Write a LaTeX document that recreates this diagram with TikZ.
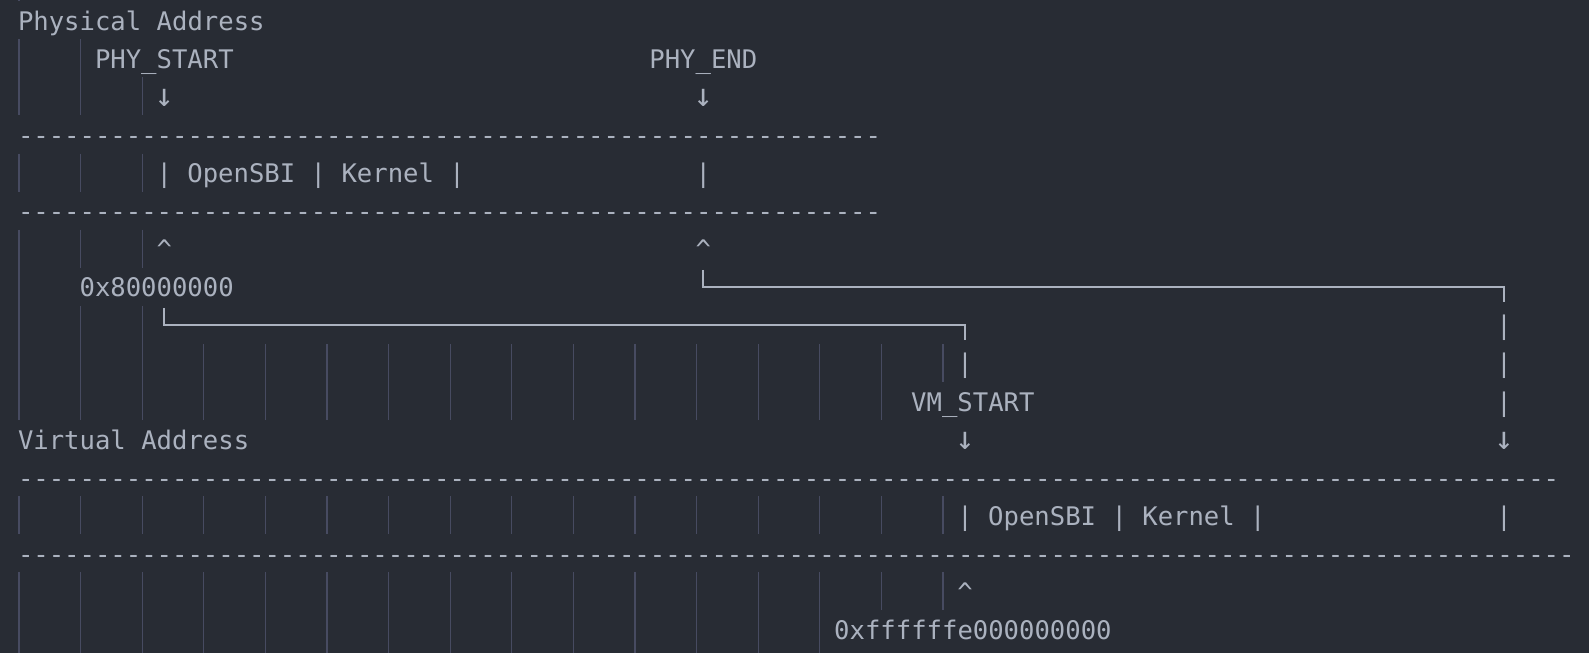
\documentclass[tikz,border=0pt]{standalone}
\usepackage{fontspec}
\setmonofont{DejaVu Sans Mono}
\definecolor{bgc}{HTML}{282C34}
\definecolor{fgc}{HTML}{ABB2BF}
\definecolor{guidec}{HTML}{474B61}
\newcommand\colx[1]{18+15.4*#1}
\newcommand\rowb[1]{30.3+38.07*#1}
\newcommand\dashrun[1]{\foreach\i in {1,...,#1}{-}}
\newcommand\txtat[4]{\node[txt] (#1) at ({\colx{#2}},{\rowb{#3}}) {#4};}
\newcommand\arrat[3]{\node[arr] (#1) at ({\colx{#2}+7.7},{\rowb{#3}}) {↓};}
\newcommand\guiderow[2]{\foreach\c in {#2}{\draw[guide] ({19+15.4*\c},{1.265+38.07*#1}) -- ({19+15.4*\c},{39.3+38.07*#1});}}
\begin{document}
\begin{tikzpicture}[x=1pt,y=-1pt,
  txt/.style={anchor=base west,inner sep=0pt,outer sep=0pt,text=fgc,font=\ttfamily\fontsize{25.6}{30}\selectfont},
  arr/.style={anchor=base,inner sep=0pt,outer sep=0pt,text=fgc,font=\ttfamily\fontsize{32}{36}\selectfont},
  guide/.style={draw=guidec,line width=1.3pt},
  conn/.style={draw=fgc,line width=1.7pt}]
\fill[bgc] (0,0) rectangle (1589,653);
\useasboundingbox (0,0) rectangle (1589,653);
% indent guides
\draw[guide] (19,0) -- (19,1.3);
\guiderow{1}{0,4}
\guiderow{2}{0,4,8}
\guiderow{4}{0,4,8}
\guiderow{6}{0,4,8}
\guiderow{7}{0}
\guiderow{8}{0,4,8}
\guiderow{9}{0,4,...,60}
\guiderow{10}{0,4,...,56}
\guiderow{13}{0,4,...,60}
\guiderow{15}{0,4,...,60}
\foreach\c in {0,4,...,52}{\draw[guide] ({19+15.4*\c},{1.265+38.07*16}) -- ({19+15.4*\c},653);}
% texts
\txtat{physaddr}{0}{0}{Physical Address}
\txtat{phystart}{5}{1}{PHY\_START}
\txtat{phyend}{41}{1}{PHY\_END}
\arrat{arrA}{9}{2}
\arrat{arrB}{44}{2}
\txtat{dashA}{0}{3}{\dashrun{56}}
\txtat{physeg}{9}{4}{| OpenSBI | Kernel |}
\txtat{physend}{44}{4}{|}
\txtat{dashB}{0}{5}{\dashrun{56}}
\txtat{caretA}{9}{6}{\textasciicircum}
\txtat{caretB}{44}{6}{\textasciicircum}
\txtat{physbase}{4}{7}{0x80000000}
\txtat{pipeR8}{96}{8}{|}
\txtat{pipeL9}{61}{9}{|}
\txtat{pipeR9}{96}{9}{|}
\txtat{vmstart}{58}{10}{VM\_START}
\txtat{pipeR10}{96}{10}{|}
\txtat{virtaddr}{0}{11}{Virtual Address}
\arrat{arrC}{61}{11}
\arrat{arrD}{96}{11}
\txtat{dashC}{0}{12}{\dashrun{100}}
\txtat{virtseg}{61}{13}{| OpenSBI | Kernel |}
\txtat{virtend}{96}{13}{|}
\txtat{dashD}{0}{14}{\dashrun{101}}
\txtat{caretC}{61}{15}{\textasciicircum}
\txtat{virtbase}{53}{16}{0xffffffe000000000}
% box-drawing connectors
\coordinate (endA) at (703.3,269.8);
\coordinate (endB) at (1503.9,286.8);
\coordinate (endC) at (1503.9,301.8);
\coordinate (startA) at (164.3,307.9);
\coordinate (startB) at (965.1,324.9);
\coordinate (startC) at (965.1,339.9);
\draw[conn] (endA) |- (endB) -- (endC);
\draw[conn] (startA) |- (startB) -- (startC);
\end{tikzpicture}
\end{document}
